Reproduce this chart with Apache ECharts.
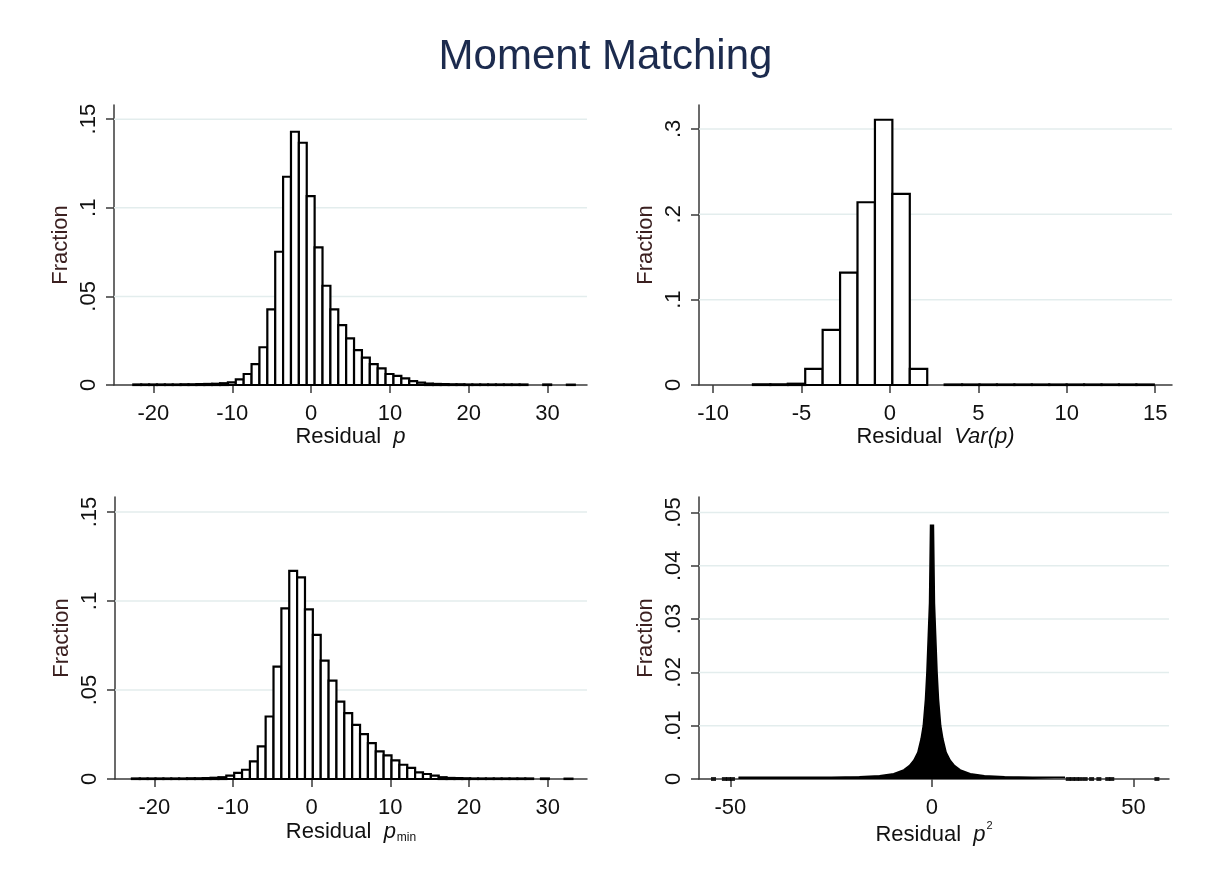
<!DOCTYPE html>
<html><head><meta charset="utf-8">
<script src="https://cdn.jsdelivr.net/npm/echarts@6/dist/echarts.min.js"></script>
<style>html,body{margin:0;padding:0;background:#fff}#c{width:1211px;height:884px}</style>
</head><body><div id="c"></div>
<script>
// ---------- DATA ----------
// Panel 1: Residual p  (histogram, bins of equal width starting at pStart)
const pStart = -22.55, pWidth = 1;
const pFrac = [
  0.0003,0.0003,0.0003,0.0003,0.0003,0.0003,0.0004,0.0004,0.0005,0.0006,
  0.0007,0.0010,0.0015,0.0032,0.0062,0.0118,0.0213,0.0427,0.0752,0.1175,
  0.1429,0.1367,0.1066,0.0777,0.0560,0.0427,0.0338,0.0263,0.0197,0.0154,
  0.0118,0.0094,0.0062,0.0051,0.0037,0.0022,0.0013,0.0008,0.0006,0.0005,
  0.0004,0.0004,0.0003,0.0003,0.0003,0.0003,0.0003,0.0003,0.0003,0.0003,
  0,0,0.0003,0,0,0.0002];

// Panel 2: Residual Var(p)
const vStart = -7.75, vWidth = 0.9857;
const vFrac = [
  0.0008,0.0008,0.0015,0.0188,0.0645,0.1317,0.2141,0.3107,0.2239,0.0188,
  0,0.0006,0.0006,0.0006,0.0006,0.0006,0.0006,0.0006,0.0006,0.0006,
  0.0006,0.0006,0.0006];

// Panel 3: Residual p_min
const mStart = -22.85, mWidth = 1;
const mFrac = [
  0.0003,0.0003,0.0003,0.0003,0.0003,0.0003,0.0003,0.0004,0.0004,0.0005,
  0.0007,0.0010,0.0019,0.0034,0.0052,0.0099,0.0183,0.0351,0.0631,0.0958,
  0.1169,0.1132,0.0953,0.0809,0.0665,0.0553,0.0435,0.0370,0.0304,0.0252,
  0.0202,0.0155,0.0133,0.0105,0.0080,0.0062,0.0037,0.0028,0.0019,0.0010,
  0.0006,0.0005,0.0004,0.0003,0.0003,0.0003,0.0003,0.0003,0.0003,0.0003,
  0.0003,0,0.0003,0,0,0.0002];

// Panel 4: Residual p^2 (very fine histogram, read as an outline profile)
const sqX = [-48,-40,-35,-25,-18,-13,-9.5,-7,-5.6,-4.5,-3.5,-2.7,-2.15,-1.6,-1.25,-0.9,-0.6,-0.35,
             0.35,0.6,0.9,1.25,1.6,2.15,2.7,3.5,4.5,5.6,7,9.5,13,18,25,33];
const sqY = [0.0003,0.0003,0.0003,0.0003,0.0004,0.0006,0.0010,0.0017,0.0025,0.0035,0.0050,0.0075,0.0100,0.0150,0.0200,0.0270,0.0330,0.0476,
             0.0476,0.0330,0.0270,0.0200,0.0150,0.0100,0.0075,0.0050,0.0035,0.0025,0.0017,0.0010,0.0006,0.0004,0.0003,0.0003];
const sqOutliers = [-54.2,-51.5,-50.5,-49.5,33.8,34.8,35.8,36.8,38,39.6,41.4,43.6,44.6,55.8];

// Axis ticks
const xTicksP = [-20,-10,0,10,20,30];
const xTicksV = [-10,-5,0,5,10,15];
const xTicksS = [-50,0,50];
const yTicksP = [0,0.05,0.1,0.15];
const yTicksV = [0,0.1,0.2,0.3];
const yTicksS = [0,0.01,0.02,0.03,0.04,0.05];

// ---------- CHART ----------
const FONT = '"Liberation Sans", Arial, sans-serif';
const AX = '#3a3a3a';
const TXT = '#111';
const ranges = [
  {x:[-25,35], y:0.158},
  {x:[-10.8,15.95], y:0.328},
  {x:[-25,35], y:0.1584},
  {x:[-57.8,58.8], y:0.0529}
];
const grids = [
  {left:114, top:105, width:473, height:280},
  {left:699, top:105, width:473, height:280},
  {left:115, top:497, width:472, height:282},
  {left:699, top:497, width:470, height:282}
];
const rich = {
  n:{fontSize:22, fontFamily:FONT, color:TXT},
  i:{fontSize:22, fontFamily:FONT, color:TXT, fontStyle:'italic'},
  s:{fontSize:12, fontFamily:FONT, color:TXT, padding:[12,0,0,1]},
  u:{fontSize:11, fontFamily:FONT, color:TXT, padding:[0,0,18,1]}
};
function xAx(i, ticks, name) {
  return {type:'value', gridIndex:i, min:ranges[i].x[0], max:ranges[i].x[1],
    axisLine:{show:true, onZero:false, lineStyle:{color:AX, width:1.5}},
    axisTick:{show:true, length:8, customValues:ticks, lineStyle:{color:AX, width:1.5}},
    axisLabel:{customValues:ticks, margin:18, fontSize:22, color:TXT, fontFamily:FONT},
    splitLine:{show:false},
    name:name, nameLocation:'middle', nameGap:41,
    nameTextStyle:{rich:rich, fontSize:22, color:TXT, fontFamily:FONT}
  };
}
function yAx(i, ticks) {
  return {type:'value', gridIndex:i, min:0, max:ranges[i].y,
    axisLine:{show:true, onZero:false, lineStyle:{color:AX, width:1.5}},
    axisTick:{show:true, length:8, customValues:ticks, lineStyle:{color:AX, width:1.5}},
    axisLabel:{customValues:ticks, rotate:90, margin:14, fontSize:22, color:TXT, fontFamily:FONT,
      formatter:v => v === 0 ? '0' : String(+v.toFixed(4)).replace(/^0\./,'.')},
    splitLine:{show:false},
    name:'Fraction', nameLocation:'middle', nameGap:42, nameRotate:90,
    nameTextStyle:{fontSize:22, color:'#3b2020', fontFamily:FONT}
  };
}
function hist(i, start, width, fr) {
  return {type:'custom', xAxisIndex:i, yAxisIndex:i, z:3, silent:true,
    data: fr.map((f,k) => [start + k*width, start + (k+1)*width, f]),
    encode:{x:[0,1], y:2},
    renderItem:(params, api) => {
      const y = api.value(2);
      if (!(y > 0)) return {type:'group', children:[]};
      const a = api.coord([api.value(0), y]), b = api.coord([api.value(1), 0]);
      return {type:'rect', shape:{x:a[0], y:a[1], width:b[0]-a[0], height:b[1]-a[1]},
        style:{fill:'#fff', stroke:'#000', lineWidth:2.2}};
    }};
}
function gridLines(i, ticks) {
  const xs = ranges[i].x;
  return {type:'custom', xAxisIndex:i, yAxisIndex:i, z:1, silent:true,
    data: ticks.filter(v => v > 0).map(v => [xs[0], v, xs[1]]),
    encode:{x:[0,2], y:1},
    renderItem:(params, api) => {
      const a = api.coord([api.value(0), api.value(1)]), b = api.coord([api.value(2), api.value(1)]);
      return {type:'line', shape:{x1:a[0], y1:a[1], x2:b[0], y2:b[1]},
        style:{stroke:'#e3eded', lineWidth:1.5}};
    }};
}
const chart = echarts.init(document.getElementById('c'), null, {renderer:'canvas'});
chart.setOption({
  backgroundColor:'#fff',
  animation:false,
  title:{text:'Moment Matching', left:'center', top:31,
    textStyle:{fontSize:42, fontWeight:'normal', color:'#1c2b4e', fontFamily:FONT}},
  grid:grids,
  xAxis:[
    xAx(0, xTicksP, '{n|Residual}  {i|p}'),
    xAx(1, xTicksV, '{n|Residual}  {i|Var(p)}'),
    xAx(2, xTicksP, '{n|Residual}  {i|p}{s|min}'),
    xAx(3, xTicksS, '{n|Residual}  {i|p}{u|2}')
  ],
  yAxis:[yAx(0, yTicksP), yAx(1, yTicksV), yAx(2, yTicksP), yAx(3, yTicksS)],
  series:[
    gridLines(0, yTicksP), gridLines(1, yTicksV), gridLines(2, yTicksP), gridLines(3, yTicksS),
    hist(0, pStart, pWidth, pFrac),
    hist(1, vStart, vWidth, vFrac),
    hist(2, mStart, mWidth, mFrac),
    {type:'line', xAxisIndex:3, yAxisIndex:3, z:3, silent:true, symbol:'none',
      data: sqX.map((x,k) => [x, sqY[k]]),
      lineStyle:{color:'#000', width:1.6, join:'miter'}, areaStyle:{color:'#000', opacity:1}},
    {type:'scatter', xAxisIndex:3, yAxisIndex:3, z:3, silent:true, symbol:'rect', symbolSize:[5,4],
      data: sqOutliers.map(x => [x, 0]), itemStyle:{color:'#000'}}
  ]
});
</script></body></html>
